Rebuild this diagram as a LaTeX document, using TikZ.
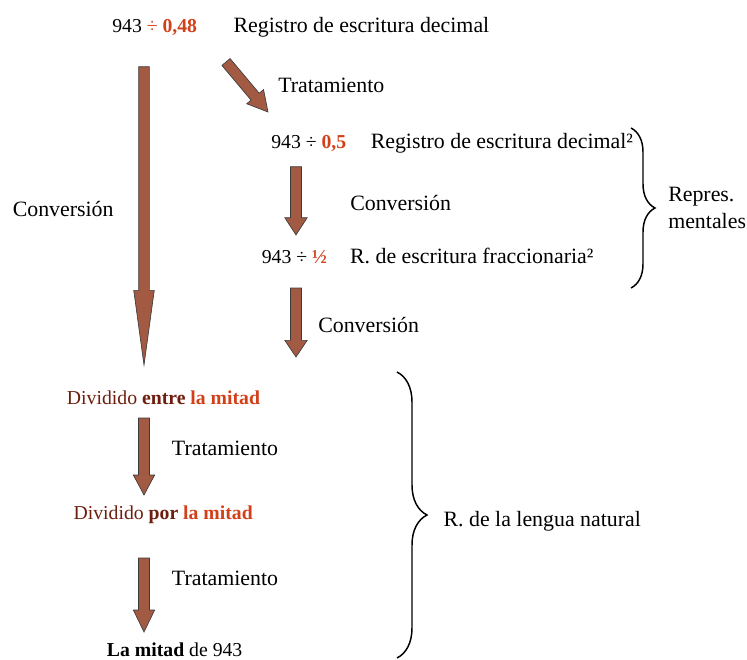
\documentclass[tikz,border=0pt]{standalone}
\usepackage{fontspec}
\setmainfont{Liberation Serif}
\usepackage{xcolor}
\usetikzlibrary{positioning,calc,decorations.pathreplacing}
\definecolor{hi}{HTML}{D2401A}
\definecolor{dv}{HTML}{6E1E0E}
\definecolor{arr}{HTML}{A25A43}
\definecolor{arrline}{HTML}{3C3C3C}
\newcommand{\blockarrow}[5]{%
  \coordinate (ba) at ($(#2)!#5!(#1)$);
  \filldraw[barrow] ($(#1)!#3!90:(#2)$) -- ($(ba)!#3!90:(#2)$) -- ($(ba)!#4!90:(#2)$) -- (#2)
    -- ($(ba)!#4!-90:(#2)$) -- ($(ba)!#3!-90:(#2)$) -- ($(#1)!#3!-90:(#2)$) -- cycle;}

\begin{document}
\begin{tikzpicture}[x=0.75pt,y=-0.75pt,
  big/.style={font=\fontsize{16.4}{20.25}\selectfont,inner sep=0pt},
  sm/.style={font=\fontsize{14.8}{17}\selectfont,inner sep=0pt},
  barrow/.style={fill=arr,draw=arrline,line width=0.5pt},
  br/.style={decorate,decoration={brace,amplitude=#1},line width=1.1pt}]
\useasboundingbox (0,0) rectangle (747,660);
\clip (0,0) rectangle (747,660);
\node[sm,anchor=base west] (q1) at (112,33) {943 \textcolor{hi}{÷ \textbf{0,48}}};
\node[big,right=27pt of q1.base east,anchor=base west] (r1) {Registro de escritura decimal};
\node[big,anchor=base west] (t1) at (278,93) {Tratamiento};
\node[sm,anchor=base west] (q2) at (271,148) {943 ÷ \textcolor{hi}{\textbf{0,5}}};
\node[big,right=18pt of q2.base east,anchor=base west] (r2) {Registro de escritura decimal²};
\node[big,anchor=base west] (c1) at (350,210) {Conversión};
\node[sm,anchor=base west] (q3) at (261.5,263) {943 ÷ \textcolor{hi}{\textbf{½}}};
\node[big,right=17pt of q3.base east,anchor=base west] (r3) {R. de escritura fraccionaria²};
\node[big,anchor=west,align=left] (rm) at (668,208) {Repres.\\mentales};
\node[big,anchor=base west] (c0) at (12.5,216) {Conversión};
\node[big,anchor=base west] (c2) at (318,332) {Conversión};
\node[sm,anchor=base west] (d1) at (66.7,404) {\textcolor{dv}{Dividido \textbf{entre}} \textcolor{hi}{\textbf{la mitad}}};
\node[big,anchor=base west] (t2) at (171.7,455) {Tratamiento};
\node[sm,anchor=base west] (d2) at (73.3,519) {\textcolor{dv}{Dividido \textbf{por}} \textcolor{hi}{\textbf{la mitad}}};
\node[big,anchor=base west] (t3) at (171.7,585) {Tratamiento};
\node[sm,anchor=base west] (d3) at (106.7,656) {\textbf{La mitad} de 943};
\node[big,anchor=base west] (ln) at (443.3,526) {R. de la lengua natural};
\coordinate (a0s) at (144,66.7);  \coordinate (a0e) at (144,365);
\coordinate (a1s) at (226,62);    \coordinate (a1e) at (268,112);
\coordinate (a2s) at (296,166.7); \coordinate (a2e) at (296,235);
\coordinate (a3s) at (296,288);   \coordinate (a3e) at (296,357);
\coordinate (a4s) at (144,418);   \coordinate (a4e) at (144,495);
\coordinate (a5s) at (144,558);   \coordinate (a5e) at (144,632);
\blockarrow{a0s}{a0e}{4pt}{7.7pt}{56pt}
\blockarrow{a1s}{a1e}{4pt}{8.25pt}{15pt}
\blockarrow{a2s}{a2e}{4.1pt}{8.4pt}{13pt}
\blockarrow{a3s}{a3e}{4.1pt}{8.4pt}{12.5pt}
\blockarrow{a4s}{a4e}{4.1pt}{8pt}{15pt}
\blockarrow{a5s}{a5e}{4.1pt}{8pt}{16.5pt}
\draw[br=18pt] (631,128) -- (631,288);
\draw[br=22.5pt] (397,372) -- (397,658);
\end{tikzpicture}
\end{document}
